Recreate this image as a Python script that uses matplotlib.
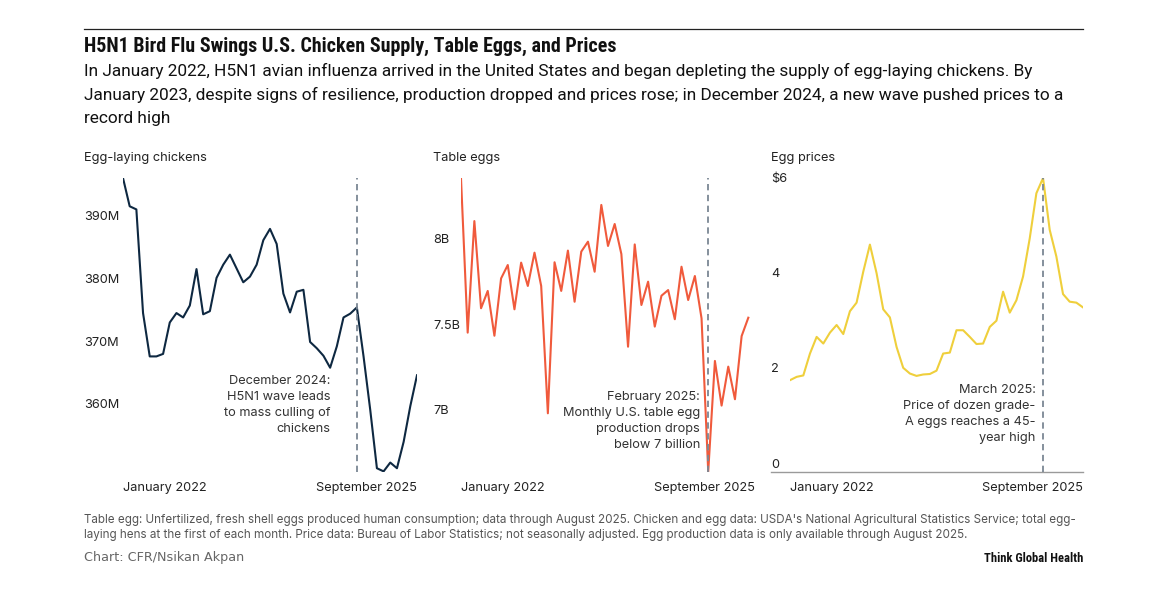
import matplotlib
matplotlib.use("Agg")
import matplotlib.pyplot as plt
from matplotlib import font_manager as fm
from matplotlib.transforms import ScaledTranslation
from matplotlib.lines import Line2D
import numpy as np

# ---------------- data (monthly, January 2022 onward) ----------------
chickens_m = [397.4, 392.9, 392.4, 375.9, 369.0, 369.0, 369.4, 374.4, 375.9, 375.2,
              377.1, 382.9, 375.7, 376.2, 381.5, 383.6, 385.2, 383.0, 380.8, 381.7,
              383.6, 387.5, 389.3, 386.9, 379.0, 376.0, 379.3, 379.6, 371.3, 370.3,
              369.1, 367.2, 370.6, 375.2, 375.8, 376.8, 369.0, 360.5, 351.2, 350.7,
              352.1, 351.2, 355.4, 361.1, 366.0]
table_eggs_b = [8.402, 7.503, 8.153, 7.645, 7.746, 7.485, 7.819, 7.897, 7.639, 7.911,
                7.775, 7.969, 7.775, 7.033, 7.913, 7.746, 7.981, 7.683, 7.975, 8.033,
                7.858, 8.247, 8.008, 8.136, 7.961, 7.421, 8.017, 7.664, 7.800, 7.538,
                7.718, 7.751, 7.581, 7.887, 7.693, 7.833, 7.586, 6.693, 7.338, 7.078,
                7.305, 7.115, 7.483, 7.590]
egg_price_usd = [1.93, 2.00, 2.03, 2.49, 2.84, 2.70, 2.93, 3.09, 2.90, 3.38,
                 3.56, 4.21, 4.78, 4.18, 3.42, 3.25, 2.63, 2.19, 2.07, 2.02,
                 2.05, 2.06, 2.13, 2.49, 2.51, 2.98, 2.98, 2.84, 2.69, 2.70,
                 3.05, 3.18, 3.79, 3.35, 3.61, 4.11, 4.91, 5.86, 6.18, 5.09,
                 4.53, 3.74, 3.58, 3.56, 3.46]

n_months = 45  # January 2022 .. September 2025
x_tick_labels = ["January 2022", "September 2025"]

chicken_ticks = [360, 370, 380, 390]
chicken_tick_labels = ["360M", "370M", "380M", "390M"]
egg_ticks = [7.0, 7.5, 8.0]
egg_tick_labels = ["7B", "7.5B", "8B"]
price_ticks = [0, 2, 4, 6]
price_tick_labels = ["0", "2", "4", "$6"]

event_chickens = 35   # December 2024
event_eggs = 37       # February 2025
event_price = 38      # March 2025

# ---------------- fonts ----------------
names = {f.name for f in fm.fontManager.ttflist}
COND = next((n for n in ["Roboto Condensed", "Liberation Sans Narrow", "Noto Sans Condensed",
                         "Open Sans Condensed"] if n in names), "Roboto")
SUB = "Roboto" if "Roboto" in names else COND
BODY = "Inter" if "Inter" in names else "DejaVu Sans"

W, H = 1165, 596
fig = plt.figure(figsize=(W / 100, H / 100), dpi=100)
fig.patch.set_facecolor("white")


def px_axes(x0, x1, y0, y1):
    return fig.add_axes([x0 / W, 1 - y1 / H, (x1 - x0) / W, (y1 - y0) / H])


def fx(px):
    return px / W


def fy(py):
    return 1 - py / H


TXT = "#222222"
DASH = "#7b8794"
FS = 9.2


def style_axes(ax, ticks, labels, ylim, pad_px):
    ax.set_xlim(0, n_months - 1)
    ax.set_ylim(*ylim)
    for s in ax.spines.values():
        s.set_visible(False)
    ax.set_yticks(ticks, labels)
    ax.set_xticks([0, n_months - 1], x_tick_labels)
    ax.tick_params(axis="y", length=0, pad=pad_px * 0.72, labelsize=FS, labelcolor=TXT)
    ax.tick_params(axis="x", length=0, pad=7, labelsize=FS, labelcolor=TXT)
    for lab in ax.get_yticklabels():
        lab.set_fontfamily(BODY)
        lab.set_ha("left")
        lab.set_transform(lab.get_transform() + ScaledTranslation(0, 0.09, fig.dpi_scale_trans))
    xl = ax.get_xticklabels()
    for lab in xl:
        lab.set_fontfamily(BODY)
    xl[0].set_ha("left")
    xl[1].set_ha("right")
    ax.patch.set_alpha(0)


ANN = dict(ha="right", va="center", ma="right", fontsize=FS, color="#333333",
           family=BODY, linespacing=1.45)

# Panel 1: chickens
ax1 = px_axes(123, 417, 178, 472)
ax1.plot(range(len(chickens_m)), chickens_m, color="#0e2841", lw=1.5, zorder=2)
ax1.axvline(event_chickens, color=DASH, lw=1.3, ls=(0, (3.5, 2.5)), zorder=3)
style_axes(ax1, chicken_ticks, chicken_tick_labels, (350.6, 397.4), 39)
ax1.text(31.1, 361.2, "December 2024:\nH5N1 wave leads\nto mass culling of\nchickens", **ANN)

# Panel 2: table eggs
ax2 = px_axes(461, 755, 178, 472)
ax2.plot(range(len(table_eggs_b)), table_eggs_b, color="#f05a3c", lw=1.5, zorder=2)
ax2.axvline(event_eggs, color=DASH, lw=1.3, ls=(0, (3.5, 2.5)), zorder=3)
style_axes(ax2, egg_ticks, egg_tick_labels, (6.691, 8.404), 28)
ax2.text(35.8, 6.989, "February 2025:\nMonthly U.S. table egg\nproduction drops\nbelow 7 billion", **ANN)

# Panel 3: prices
ax3 = px_axes(790, 1083, 178, 472)
ax3.plot(range(len(egg_price_usd)), egg_price_usd, color="#efcf3c", lw=1.5, zorder=2)
ax3.axvline(event_price, color=DASH, lw=1.3, ls=(0, (3.5, 2.5)), zorder=3)
ax3.axhline(0, xmin=-19 / 293, xmax=1, color="#9a9a9a", lw=1.0, clip_on=False, zorder=1)
style_axes(ax3, price_ticks, price_tick_labels, (0, 6.18), 19)
ax3.text(36.9, 1.22, "March 2025:\nPrice of dozen grade-\nA eggs reaches a 45-\nyear high", **ANN)

# Panel titles
for px, t in [(84, "Egg-laying chickens"), (433, "Table eggs"), (771, "Egg prices")]:
    fig.text(fx(px), fy(158), t, ha="left", va="center", fontsize=FS, color=TXT, family=BODY)

# Header
fig.add_artist(Line2D([fx(84), fx(1083)], [fy(29), fy(29)], color="#222222", lw=0.9))
fig.text(fx(84), fy(46), "H5N1 Bird Flu Swings U.S. Chicken Supply, Table Eggs, and Prices",
         ha="left", va="center", fontsize=14.4, fontweight="bold", color="#111111", family=COND)
sub = ["In January 2022, H5N1 avian influenza arrived in the United States and began depleting the supply of egg-laying chickens. By",
       "January 2023, despite signs of resilience, production dropped and prices rose; in December 2024, a new wave pushed prices to a",
       "record high"]
for yy, line in zip([71, 95, 119], sub):
    fig.text(fx(84), fy(yy), line, ha="left", va="center", fontsize=12.45, color="#111111", family=SUB)

# Footer
foot = ["Table egg: Unfertilized, fresh shell eggs produced human consumption; data through August 2025. Chicken and egg data: USDA's National Agricultural Statistics Service; total egg-",
        "laying hens at the first of each month. Price data: Bureau of Labor Statistics; not seasonally adjusted. Egg production data is only available through August 2025."]
for yy, line in zip([520, 535], foot):
    fig.text(fx(84), fy(yy), line, ha="left", va="center", fontsize=8.4, color="#555555", family=BODY)
fig.text(fx(84), fy(558), "Chart: CFR/Nsikan Akpan", ha="left", va="center", fontsize=9.2,
         color="#666666", family="DejaVu Sans")
fig.text(fx(1083), fy(558), "Think Global Health", ha="right", va="center", fontsize=9,
         fontweight="bold", color="#111111", family=COND)

fig.savefig("out.png", dpi=100, facecolor="white")
